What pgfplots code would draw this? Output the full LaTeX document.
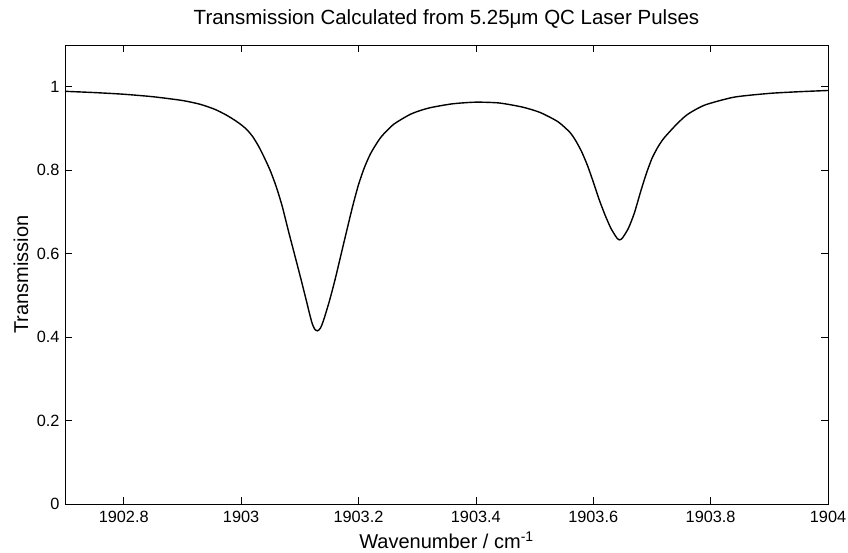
\documentclass[border=0pt]{standalone}
\usepackage{pgfplots}
\pgfplotsset{compat=1.18}
\usepackage{fontspec}
\setmainfont{Liberation Sans}
\begin{document}
\begin{tikzpicture}[x=1pt,y=1pt]
\useasboundingbox (0,0) rectangle (848,552);
\begin{axis}[
  at={(65pt,48pt)}, anchor=south west, scale only axis,
  width=763pt, height=459pt,
  xmin=-0.3, xmax=1.0, ymin=0, ymax=1.1,
  xtick={-0.2,0,0.2,0.4,0.6,0.8,1.0},
  xticklabels={1902.8,1903,1903.2,1903.4,1903.6,1903.8,1904},
  ytick={0,0.2,0.4,0.6,0.8,1},
  yticklabels={0,0.2,0.4,0.6,0.8,1},
  tick align=inside, major tick length=7pt,
  axis line style={black, line width=0.7pt},
  tick style={black, line width=0.7pt},
  ticklabel style={font=\fontsize{16.3}{16.3}\selectfont},
  xticklabel style={anchor=base, yshift=-18pt},
  yticklabel style={xshift=-2pt},
  title={Transmission Calculated from 5.25μm QC Laser Pulses},
  title style={font=\fontsize{20.5}{20.5}\selectfont, at={(axis description cs:0.5,1.031)}, anchor=base},
  xlabel={Wavenumber / cm\textsuperscript{-1}},
  xlabel style={font=\fontsize{20}{20}\selectfont, at={(axis description cs:0.5,-0.098)}, anchor=base},
  ylabel={Transmission},
  ylabel style={font=\fontsize{20}{20}\selectfont, at={(axis description cs:-0.0485,0.5)}, anchor=base},
]
\addplot[black, line width=1.4pt, smooth, tension=0.4] table {
x y
-0.30 0.989
-0.25 0.986
-0.20 0.982
-0.15 0.976
-0.10 0.967
-0.07 0.958
-0.045 0.946
-0.025 0.932
-0.01 0.919
0.00 0.909
0.01 0.897
0.02 0.880
0.03 0.857
0.04 0.829
0.05 0.798
0.06 0.760
0.07 0.714
0.08 0.658
0.09 0.604
0.10 0.550
0.11 0.494
0.12 0.438
0.125 0.420
0.13 0.415
0.135 0.421
0.14 0.438
0.15 0.484
0.16 0.537
0.17 0.596
0.18 0.655
0.19 0.713
0.20 0.765
0.21 0.806
0.22 0.838
0.23 0.862
0.24 0.882
0.26 0.910
0.29 0.935
0.32 0.949
0.36 0.959
0.40 0.963
0.44 0.961
0.48 0.951
0.51 0.938
0.54 0.916
0.56 0.891
0.57 0.871
0.58 0.845
0.59 0.812
0.60 0.772
0.61 0.730
0.62 0.693
0.63 0.661
0.64 0.638
0.645 0.633
0.65 0.638
0.66 0.661
0.67 0.697
0.68 0.745
0.69 0.790
0.70 0.828
0.71 0.855
0.72 0.876
0.74 0.907
0.76 0.933
0.79 0.956
0.84 0.975
0.90 0.984
0.95 0.988
1.00 0.991
};
\end{axis}
\end{tikzpicture}
\end{document}
